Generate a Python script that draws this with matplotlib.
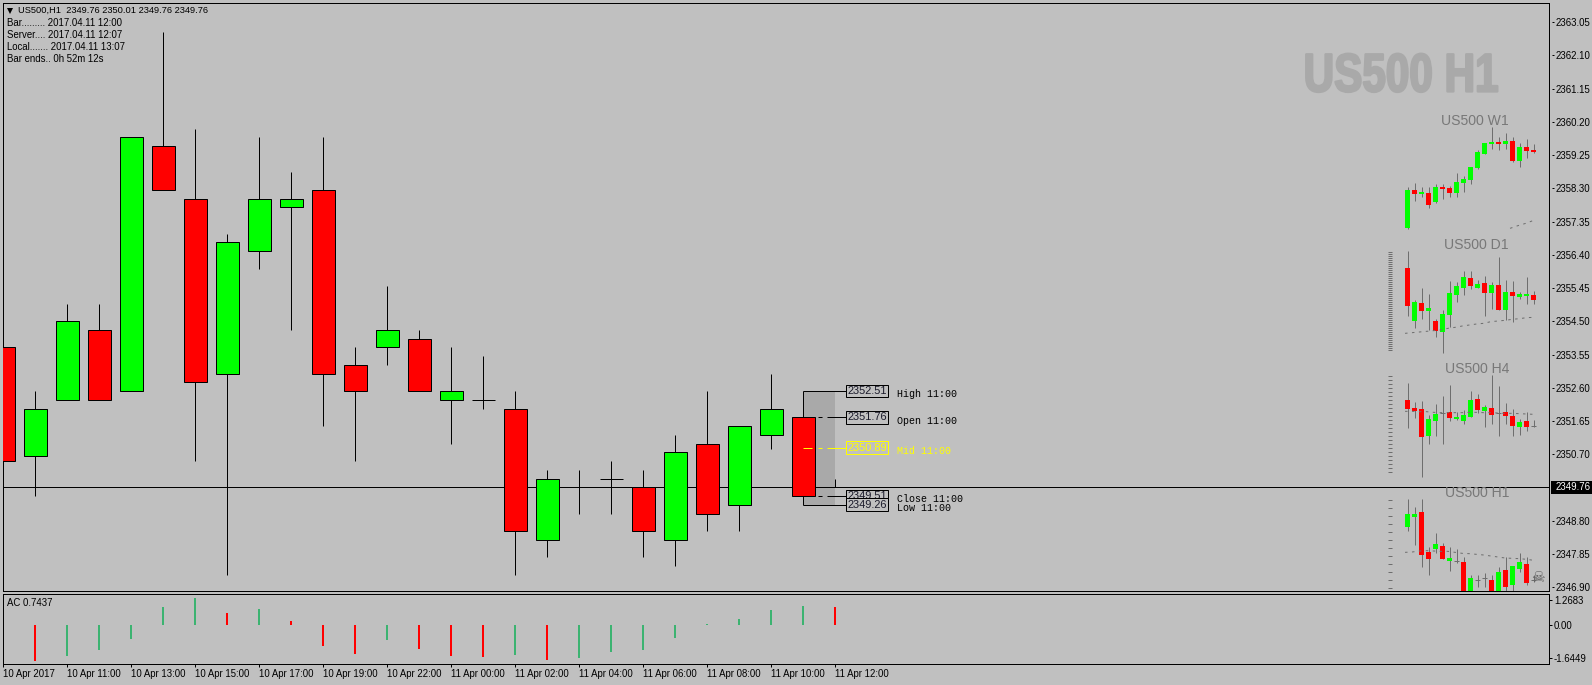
import matplotlib
matplotlib.use("Agg")
import matplotlib.pyplot as plt
from matplotlib.patches import Rectangle
from matplotlib.transforms import Affine2D
import matplotlib.patheffects as pe
import numpy as np

# --- main H1 candles
opens = [2353.76, 2350.65, 2352.26, 2354.26, 2352.51, 2359.51, 2358.01, 2353.01, 2356.51,
         2357.76, 2358.26, 2353.26, 2353.76, 2354.01, 2352.26, 2352.26, 2352.01, 2348.26,
         2349.76, 2350.01, 2349.76, 2348.26, 2351.01, 2349.26, 2351.26, 2351.76, 2349.76]
highs = [2354.01, 2352.51, 2355.01, 2355.01, 2359.76, 2362.76, 2360.01, 2357.01, 2359.76,
         2358.76, 2359.76, 2353.76, 2355.51, 2354.26, 2353.76, 2353.51, 2352.51, 2350.26,
         2350.26, 2350.51, 2350.26, 2351.26, 2352.51, 2351.51, 2353.01, 2352.51, 2350.01]
lows = [2350.51, 2349.51, 2352.26, 2352.26, 2352.51, 2358.26, 2350.51, 2347.26, 2356.01,
        2354.26, 2351.51, 2350.51, 2353.26, 2352.51, 2351.01, 2352.01, 2347.26, 2347.76,
        2349.01, 2349.01, 2347.76, 2347.51, 2348.51, 2348.51, 2350.86, 2349.26, 2349.76]
closes = [2350.51, 2352.01, 2354.51, 2352.26, 2359.76, 2358.26, 2352.76, 2356.76, 2358.01,
          2358.01, 2353.01, 2352.51, 2354.26, 2352.51, 2352.51, 2352.26, 2348.51, 2350.01,
          2349.76, 2350.01, 2348.51, 2350.76, 2349.01, 2351.51, 2352.01, 2349.51, 2349.76]
bid = 2349.76

price_ticks = [2363.05, 2362.10, 2361.15, 2360.20, 2359.25, 2358.30, 2357.35, 2356.40, 2355.45,
               2354.50, 2353.55, 2352.60, 2351.65, 2350.70, 2348.80, 2347.85, 2346.90]
time_ticks = [0, 2, 4, 6, 8, 10, 12, 14, 16, 18, 20, 22, 24, 26]
time_labels = ["10 Apr 2017", "10 Apr 11:00", "10 Apr 13:00", "10 Apr 15:00", "10 Apr 17:00",
               "10 Apr 19:00", "10 Apr 22:00", "11 Apr 00:00", "11 Apr 02:00", "11 Apr 04:00",
               "11 Apr 06:00", "11 Apr 08:00", "11 Apr 10:00", "11 Apr 12:00"]

# --- accelerator oscillator panel
ac_values = [-1.363, -1.818, -1.565, -1.262, -0.707, 0.909, 1.363, 0.606, 0.808, 0.202, -1.060,
             -1.464, -0.757, -1.212, -1.565, -1.616, -1.515, -1.767, -1.666, -1.363, -1.262,
             -0.656, 0.050, 0.303, 0.757, 0.959, 0.909]
ac_is_red = [1, 1, 0, 0, 0, 0, 0, 1, 0, 1, 1, 1, 0, 1, 1, 1, 0, 1, 0, 0, 0, 0, 0, 0, 0, 0, 1]
ac_ticks = [1.2683, 0.0, -1.6449]
ac_tick_labels = ["1.2683", "0.00", "-1.6449"]

# --- previous day levels
level_names = ["High 11:00", "Open 11:00", "Mid 11:00", "Close 11:00", "Low 11:00"]
level_prices = [2352.51, 2351.76, 2350.89, 2349.51, 2349.26]
level_text = ["2352.51", "2351.76", "2350.89", "2349.51", "2349.26"]

info_lines = ["Bar......... 2017.04.11 12:00", "Server.... 2017.04.11 12:07",
              "Local....... 2017.04.11 13:07", "Bar ends.. 0h 52m 12s"]

# --- mini charts: no scale on them, so heights are measured down from the top of each panel
w1_top = [270, 270, 276, 279, 261, 261, 264, 246, 237, 201, 156, 129, 126, 126, 123, 123, 141, 141, 150]
w1_bot = [384, 282, 282, 315, 306, 267, 279, 279, 249, 240, 204, 162, 132, 132, 132, 183, 183, 153, 156]
w1_high = [262, 249, 261, 261, 252, 252, 258, 219, 228, 201, 150, 129, 81, 111, 99, 111, 129, 117, 132]
w1_low = [386, 303, 290, 324, 309, 297, 291, 291, 276, 252, 207, 162, 147, 150, 147, 186, 201, 174, 159]
w1_red = [0, 1, 0, 1, 0, 1, 1, 0, 0, 0, 0, 0, 0, 1, 0, 1, 0, 1, 1]
w1_ma = [385, 377, 370, 361]

d1_top = [84, 186, 189, 204, 243, 222, 159, 138, 111, 114, 132, 129, 135, 135, 156, 156, 162, 162, 165]
d1_bot = [198, 243, 213, 213, 273, 276, 225, 165, 144, 138, 144, 159, 159, 210, 210, 168, 171, 168, 180]
d1_high = [33, 180, 144, 162, 237, 210, 123, 126, 93, 93, 120, 108, 126, 51, 120, 123, 156, 111, 153]
d1_low = [228, 264, 237, 270, 291, 339, 261, 186, 165, 147, 144, 228, 207, 210, 240, 246, 177, 192, 192]
d1_red = [1, 0, 1, 0, 1, 0, 0, 0, 0, 1, 0, 1, 0, 1, 0, 1, 0, 0, 1]
d1_ma = [280, 278, 276, 274, 272, 270, 265, 262, 258, 255, 252, 250, 245, 243, 241, 238, 236, 233, 232]

h4_top = [120, 144, 147, 177, 162, 159, 156, 171, 165, 120, 117, 141, 144, 159, 156, 168, 186, 183, 199]
h4_bot = [147, 153, 231, 228, 183, 159, 174, 177, 183, 171, 150, 153, 165, 159, 168, 198, 201, 201, 199]
h4_high = [69, 126, 123, 165, 132, 108, 75, 156, 150, 93, 102, 135, 45, 78, 129, 147, 177, 156, 180]
h4_low = [204, 174, 351, 252, 228, 252, 183, 180, 192, 171, 159, 201, 192, 228, 192, 228, 225, 213, 201]
h4_red = [1, 1, 1, 0, 0, 0, 1, 0, 0, 0, 1, 0, 1, 0, 1, 1, 0, 1, 0]
h4_ma = [154, 154, 155, 155, 157, 158, 158, 158, 158, 157, 157, 158, 158, 159, 160, 160, 161, 162, 163]

h1_top = [102, 102, 96, 216, 192, 198, 234, 242, 246, 294, 300, 295, 300, 276, 270, 258, 246, 252, 300]
h1_bot = [141, 111, 225, 237, 207, 237, 243, 242, 345, 345, 300, 295, 345, 345, 321, 315, 267, 309, 300]
h1_high = [57, 81, 57, 201, 159, 189, 201, 207, 231, 285, 285, 279, 285, 261, 231, 258, 219, 231, 285]
h1_low = [153, 195, 261, 285, 219, 237, 273, 249, 360, 360, 321, 321, 360, 360, 345, 345, 276, 315, 306]
h1_red = [0, 0, 1, 1, 0, 1, 0, 0, 1, 0, 0, 0, 1, 0, 1, 0, 0, 1, 0]
h1_ma = [217, 216, 213, 212, 213, 214, 214, 217, 220, 221, 223, 225, 228, 231, 234, 235, 236, 238, 241]

W, H = 1592, 685
SILVER = "#C0C0C0"
GREEN = "#00FF00"
RED = "#FF0000"
GREY = "#6E6E6E"
LW = 0.72  # one pixel at dpi 100
SMALL = 6.8

plt.rcParams["font.family"] = "Liberation Sans"
plt.rcParams["lines.scale_dashes"] = False
plt.rcParams["lines.solid_capstyle"] = "butt"


class Condensed(pe.AbstractPathEffect):
    """Squeeze a text horizontally about a pixel column and fatten it, for the watermark."""

    def __init__(self, squeeze, center, width, color):
        super().__init__()
        self.squeeze = squeeze
        self.center = center
        self.width = width
        self.color = color

    def draw_path(self, renderer, gc, tpath, affine, rgbFace=None):
        squeezed = affine + Affine2D().translate(-self.center, 0).scale(self.squeeze, 1).translate(self.center, 0)
        gc0 = renderer.new_gc()
        gc0.copy_properties(gc)
        gc0.set_linewidth(self.width)
        gc0.set_foreground(self.color)
        renderer.draw_path(gc0, tpath, squeezed, rgbFace)
        gc0.restore()


def add_axes_px(left, top, right, bottom):
    """Axes from pixel edges, y counted from the top of the image."""
    return fig.add_axes([left / W, 1 - bottom / H, (right - left) / W, (bottom - top) / H])


def text_px(x, y, s, **kwargs):
    fig.text(x / W, 1 - y / H, s, va="center", **kwargs)


def draw_mini(panel_top, rows, top, bot, high, low, red, ma, ma_start, ladder):
    ax = add_axes_px(1386, panel_top, 1541.4, panel_top + rows / 3)
    ax.set_xlim(-3.1, 19.1)
    ax.set_ylim(rows, 0)
    ax.axis("off")
    ax.patch.set_alpha(0)
    x = np.arange(len(top))
    top = np.array(top)
    bot = np.array(bot)
    ax.vlines(x, high, low, color=GREY, lw=LW, zorder=2)
    colors = [RED if r else GREEN for r in red]
    ax.bar(x, bot - top, bottom=top, width=0.78, color=colors, lw=0, zorder=3)
    doji = top == bot
    ax.hlines(top[doji], x[doji] - 0.36, x[doji] + 0.36, color=GREY, lw=LW, zorder=3)
    ma_x = np.linspace(ma_start - 0.38, len(top) - 1, len(ma))
    ax.plot(ma_x, ma, color=GREY, lw=LW, ls=(0, (1.8, 3.2)), zorder=4)
    if len(ladder):
        ax.hlines(ladder, -2.81, -2.24, color=GREY, lw=LW)
    return ax


fig = plt.figure(figsize=(W / 100, H / 100), dpi=100, facecolor=SILVER)

# x pixel = 3.3 + 32 * bar, price pixel = 487.3 - 35 * (price - bid)
ax = add_axes_px(2.5, 2.5, 1549, 591)
ax.set_facecolor(SILVER)
ax.set_xlim((2.5 - 3.3) / 32, (1549 - 3.3) / 32)
ax.set_ylim(bid - (591 - 487.3) / 35, bid + (487.3 - 2.5) / 35)

idx = np.arange(len(opens))
opens = np.array(opens)
closes = np.array(closes)
candle_colors = [GREEN if c > o else RED for o, c in zip(opens, closes)]

ax.axhline(bid, color="black", lw=LW, zorder=1)
ax.vlines(idx, lows, highs, color="black", lw=LW, zorder=2)
ax.bar(idx, np.abs(closes - opens), bottom=np.minimum(opens, closes), width=23.5 / 32,
       color=candle_colors, edgecolor="black", lw=LW, zorder=3)

# box over the last full bar, then the level lines and price boxes
last = 25
ax.bar(last + 0.5, level_prices[0] - level_prices[4], bottom=level_prices[4], width=1,
       color="#A9A9A9", lw=0, zorder=0.5)
for n, (name, price, label) in enumerate(zip(level_names, level_prices, level_text)):
    col = "#FFFF00" if name.startswith("Mid") else "black"
    if name.startswith(("High", "Low")):
        ax.plot([last, last + 1.33], [price, price], color=col, lw=LW, zorder=4)
    else:
        ax.plot([last, last + 0.75], [price, price], color=col, lw=LW,
                ls=(0, (6.5, 4.3, 2.9, 3.6)), zorder=4)
        ax.plot([last + 0.75, last + 1.33], [price, price], color=col, lw=LW, zorder=4)
    ax.bar(last + 1.985, 0.36, bottom=price - 0.18, width=1.31, color=SILVER, edgecolor=col,
           lw=LW, zorder=5 + n)
    txt_col = col if col != "black" else "#1A1A2A"
    ax.text(last + 1.985, price, label, ha="center", va="center", color=txt_col, fontsize=7.9,
            zorder=5 + n)
    ax.text(last + 2.92, price - 3.4 / 35, name, ha="left", va="center", color=col, fontsize=7.2,
            family="Liberation Mono", zorder=5)

ax.yaxis.tick_right()
ax.set_yticks(price_ticks)
ax.set_yticklabels([f"{p:.2f}" for p in price_ticks])
ax.tick_params(axis="y", length=0, pad=5, labelsize=SMALL + 0.1, colors="black")
ax.set_xticks([])
ytrans = ax.get_yaxis_transform()
for p in price_ticks:
    ax.plot([1.0018, 1.0033], [p, p], color="black", lw=LW, transform=ytrans, clip_on=False)
ax.add_patch(Rectangle((1.0013, bid - 0.18), 0.03, 0.36, transform=ytrans, clip_on=False,
                       color="black", lw=0, zorder=6))
ax.text(1.0042, bid, f"{bid:.2f}", transform=ytrans, color="white", fontsize=SMALL + 0.1, va="center",
        ha="left", clip_on=False, zorder=7)
for side in ax.spines.values():
    side.set_linewidth(LW)

# AC panel
ax2 = add_axes_px(2.5, 593.5, 1549, 664.3)
ax2.set_facecolor(SILVER)
ax2.set_xlim(ax.get_xlim())
ax2.set_ylim(-1.985, 1.59)
ax2.bar(idx, ac_values, width=2 / 32, lw=0,
        color=[RED if r else "#3CB371" for r in ac_is_red])
ax2.yaxis.tick_right()
ax2.set_yticks(ac_ticks)
ax2.set_yticklabels(ac_tick_labels)
ax2.set_xticks(time_ticks)
ax2.set_xticklabels(time_labels, ha="left")
ax2.tick_params(axis="y", length=2, width=LW, pad=1.5, labelsize=SMALL + 0.1)
ax2.tick_params(axis="x", length=2.2, width=LW, pad=1.3, labelsize=SMALL + 0.1)
for side in ax2.spines.values():
    side.set_linewidth(LW)

# mini charts on the right
draw_mini(100, 480, w1_top, w1_bot, w1_high, w1_low, w1_red, w1_ma, 15, [])
draw_mini(240, 390, d1_top, d1_bot, d1_high, d1_low, d1_red, d1_ma, 0, np.arange(36, 336, 6))
draw_mini(360, 390, h4_top, h4_bot, h4_high, h4_low, h4_red, h4_ma, 0, np.arange(48, 342, 12))
draw_mini(480, 334, h1_top, h1_bot, h1_high, h1_low, h1_red, h1_ma, 0, np.arange(61, 330, 24))

for name, cx, cy in [("US500 W1", 1475, 120.7), ("US500 D1", 1476.7, 244.7),
                     ("US500 H4", 1476.7, 368.7), ("US500 H1", 1476.7, 492.7)]:
    text_px(cx, cy, name, ha="center", color="#787878", fontsize=10.1)
text_px(1538, 577, "\u2620", ha="center", color="#5E5E5E", fontsize=11, family="DejaVu Sans")

# watermark and chart header
text_px(1401, 77.5, "US500 H1", ha="center", color="#A9A9A9", fontsize=39, fontweight="bold",
        path_effects=[Condensed(0.78, 1401, 1.6, "#A9A9A9")])
header_ax = fig.add_axes([0, 0, 1, 1])
header_ax.axis("off")
header_ax.set_xlim(0, W)
header_ax.set_ylim(H, 0)
header_ax.plot([9.5], [10.6], marker="v", color="black", ms=4.6, mew=0, ls="none")
text_px(18, 10.7, "US500,H1  2349.76 2350.01 2349.76 2349.76", ha="left", fontsize=SMALL - 0.1)
for i, line in enumerate(info_lines):
    text_px(7, 23.5 + 12 * i, line, ha="left", fontsize=SMALL + 0.1)
text_px(7.5, 602.7, "AC 0.7437", ha="left", fontsize=SMALL + 0.1)

fig.savefig("out.png", dpi=100, facecolor=SILVER)
